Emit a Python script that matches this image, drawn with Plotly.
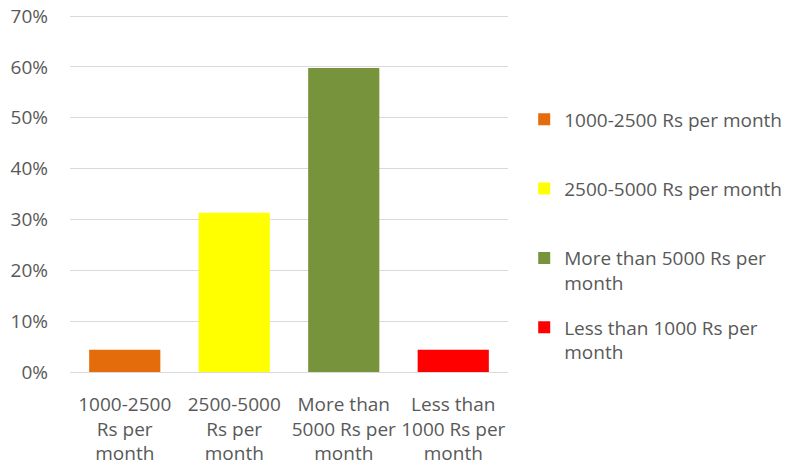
import plotly.graph_objects as go

# categories as shown on the x axis, and legend names
categories = [
    "1000-2500<br>Rs per<br>month",
    "2500-5000<br>Rs per<br>month",
    "More than<br>5000 Rs per<br>month",
    "Less than<br>1000 Rs per<br>month",
]
legend_names = [
    "1000-2500 Rs per month<br>&nbsp;",
    "2500-5000 Rs per month<br>&nbsp;",
    "More than 5000 Rs per<br>month",
    "Less than 1000 Rs per<br>month",
]
shares = [0.044, 0.313, 0.598, 0.044]
bar_colors = ["#E46C0A", "#FFFF00", "#77933C", "#FF0000"]

TEXT = "#595959"
GRID = "#D9D9D9"

fig = go.Figure()
for cat, name, val, col in zip(categories, legend_names, shares, bar_colors):
    fig.add_trace(go.Bar(
        x=[cat], y=[val], name=name,
        marker=dict(color=col, line=dict(width=0)),
        width=0.65,
        legendgroup=name,
    ))

# page has an 8px body margin, so the figure is sized to fit inside it
fig.update_layout(
    width=795, height=461,
    barmode="overlay",
    paper_bgcolor="white",
    plot_bgcolor="white",
    font=dict(family="Open Sans", size=19, color=TEXT),
    margin=dict(l=62, r=295, t=6, b=97),
    showlegend=True,
    legend=dict(
        x=1.037, xanchor="left",
        y=0.759, yanchor="top",
        valign="top",
        tracegroupgap=17,
        font=dict(size=19, color=TEXT),
        itemwidth=30,
    ),
)
fig.update_xaxes(
    categoryorder="array", categoryarray=categories,
    showgrid=False, showline=False, ticks="",
    ticklabelstandoff=19, automargin=False,
)
# top of range nudged up a hair so the 70% gridline isn't clipped at the edge
fig.update_yaxes(
    range=[0, 0.704], tickvals=[0, 0.1, 0.2, 0.3, 0.4, 0.5, 0.6, 0.7],
    tickformat=".0%",
    showgrid=True, gridcolor=GRID, gridwidth=1,
    zeroline=True, zerolinecolor=GRID, zerolinewidth=1,
    showline=False, ticks="",
    ticklabelstandoff=21, automargin=False,
    ticklabeloverflow="allow",
)

fig.write_html("out.html")
